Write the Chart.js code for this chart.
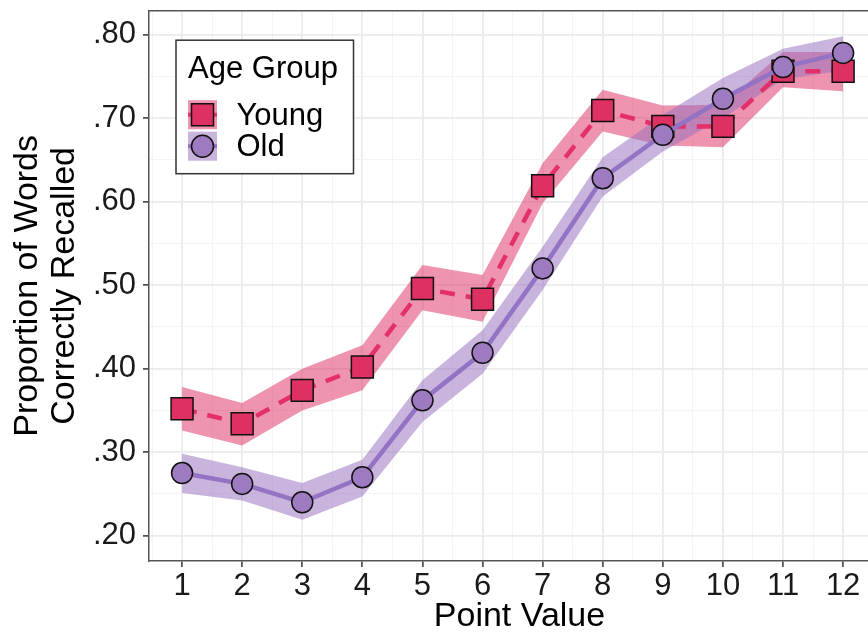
<!DOCTYPE html>
<html><head><meta charset="utf-8">
<script src="https://cdn.jsdelivr.net/npm/chart.js@4"></script>
<style>
html,body{margin:0;padding:0;overflow:hidden;background:#fff;width:868px;height:635px}
#wrap{position:absolute;left:0;top:0;width:890px;height:635px}
</style>
</head><body><div id="wrap"><canvas id="c" width="890" height="635" style="width:890px;height:635px"></canvas></div>
<script>
// ---- data ----
const pointValues = [1,2,3,4,5,6,7,8,9,10,11,12];
const seriesNames = ['Young','Old'];
const legendTitle = 'Age Group';
const youngMean  = [0.352,0.334,0.374,0.402,0.496,0.483,0.619,0.709,0.690,0.690,0.756,0.756];
const youngLower = [0.326,0.308,0.350,0.374,0.470,0.456,0.598,0.684,0.667,0.665,0.737,0.732];
const youngUpper = [0.378,0.359,0.400,0.428,0.524,0.512,0.646,0.734,0.715,0.716,0.779,0.779];
const oldMean    = [0.275,0.262,0.240,0.270,0.362,0.419,0.520,0.628,0.680,0.723,0.761,0.778];
const oldLower   = [0.251,0.242,0.219,0.247,0.336,0.394,0.494,0.606,0.660,0.700,0.746,0.757];
const oldUpper   = [0.298,0.282,0.263,0.291,0.386,0.446,0.546,0.653,0.704,0.748,0.783,0.798];
const xTickLabels = ['1','2','3','4','5','6','7','8','9','10','11','12'];
const xGridValues = [0.5,1,1.5,2,2.5,3,3.5,4,4.5,5,5.5,6,6.5,7,7.5,8,8.5,9,9.5,10,10.5,11,11.5,12,12.5];
const yTickLabels = ['.20','.30','.40','.50','.60','.70','.80'];
const yGridValues = [0.20,0.25,0.30,0.35,0.40,0.45,0.50,0.55,0.60,0.65,0.70,0.75,0.80];
const xAxisTitle = 'Point Value';
const yAxisTitle = ['Proportion of Words','Correctly Recalled'];

// ---- styles ----
const PINK = '#DE3163', PINK_LINE = '#E3306A', PINK_BAND = 'rgba(222,49,99,0.52)';
const PURPLE = '#9E7BC0', PURPLE_LINE = '#9472C4', PURPLE_BAND = 'rgba(150,112,190,0.52)';
const FONT = "'Liberation Sans', Arial, sans-serif";
const AXIS_COL = '#555';

const pts = arr => pointValues.map((x,i)=>({x, y: arr[i]}));
const isMajorX = v => Math.abs(v - Math.round(v)) < 1e-6;
const isMajorY = v => Math.round(v*100) % 10 === 0;
const noPad = s => { s.paddingTop = 0; s.paddingBottom = 0; s.paddingLeft = 0; s.paddingRight = 0; };

const frame = {
  id:'frame',
  afterDraw(chart){
    const {ctx, chartArea:a} = chart;
    ctx.save();
    ctx.strokeStyle = AXIS_COL; ctx.lineWidth = 1.5;
    ctx.beginPath(); ctx.moveTo(a.left, a.top); ctx.lineTo(a.right, a.top); ctx.stroke();
    ctx.restore();
  }
};

const legendBox = {
  id:'legendBox',
  afterDraw(chart){
    const {ctx, chartArea:a} = chart;
    const bx = a.left + 27, by = a.top + 29.5, bw = 177.5, bh = 133.5;
    ctx.save();
    ctx.fillStyle = '#fff'; ctx.fillRect(bx, by, bw, bh);
    ctx.strokeStyle = '#333'; ctx.lineWidth = 1.5; ctx.strokeRect(bx, by, bw, bh);
    ctx.fillStyle = '#000'; ctx.font = '31px ' + FONT; ctx.textBaseline = 'alphabetic'; ctx.textAlign='left';
    ctx.fillText(legendTitle, bx + 12, by + 38);
    const keys = [
      {band:PINK_BAND, line:PINK_LINE, fill:PINK, shape:'rect'},
      {band:PURPLE_BAND, line:PURPLE_LINE, fill:PURPLE, shape:'circle'}
    ];
    keys.forEach((k,i)=>{
      const kx = bx + 12, ky = by + 60 + i*31.5, ks = 29;
      ctx.fillStyle = k.band; ctx.fillRect(kx, ky, ks, ks);
      ctx.strokeStyle = k.line; ctx.lineWidth = 4;
      ctx.beginPath(); ctx.moveTo(kx, ky+ks/2); ctx.lineTo(kx+ks, ky+ks/2); ctx.stroke();
      ctx.fillStyle = k.fill; ctx.strokeStyle = '#111'; ctx.lineWidth = 1.5;
      const cx = kx + ks/2, cy = ky + ks/2;
      ctx.beginPath();
      if (k.shape==='rect') ctx.rect(cx-11, cy-11, 22, 22); else ctx.arc(cx, cy, 11, 0, Math.PI*2);
      ctx.fill(); ctx.stroke();
      ctx.fillStyle = '#000';
      ctx.fillText(seriesNames[i], kx + 48.5, ky + 24.5);
    });
    ctx.restore();
  }
};

const bandDs = (data, color, fill) => ({data, borderWidth:0, pointRadius:0, backgroundColor:color, fill, tension:0});

new Chart(document.getElementById('c'), {
  type:'line',
  data:{ datasets:[
    {label:seriesNames[1], data:pts(oldMean), borderColor:PURPLE_LINE, borderWidth:4.5, fill:false,
     pointStyle:'circle', pointRadius:10.5, pointBackgroundColor:PURPLE, pointBorderColor:'#111', pointBorderWidth:1.5, tension:0},
    {label:seriesNames[0], data:pts(youngMean), borderColor:PINK_LINE, borderWidth:4.5, borderDash:[15,11], fill:false,
     pointStyle:'rect', pointRadius:15.5, pointBackgroundColor:PINK, pointBorderColor:'#111', pointBorderWidth:1.5, tension:0},
    bandDs(pts(oldUpper), PURPLE_BAND, '+1'),
    bandDs(pts(oldLower), PURPLE_BAND, false),
    bandDs(pts(youngUpper), PINK_BAND, '+1'),
    bandDs(pts(youngLower), PINK_BAND, false)
  ]},
  options:{
    responsive:false, animation:false, devicePixelRatio:1,
    layout:{autoPadding:false, padding:{top:10.7,left:0,right:0,bottom:0}},
    plugins:{legend:{display:false}, tooltip:{enabled:false}},
    elements:{line:{borderJoinStyle:'round'}},
    scales:{
      x:{type:'linear', min:0.45, max:12.78,
        afterFit(s){ s.height = 74; noPad(s); },
        afterBuildTicks(s){ s.ticks = xGridValues.map(v=>({value:v})); },
        ticks:{autoSkip:false, maxRotation:0, padding:1, color:'#1a1a1a', font:{family:FONT, size:31},
          callback:v => isMajorX(v) ? xTickLabels[Math.round(v)-1] : ''},
        grid:{color:c => isMajorX(c.tick.value) ? '#ebebeb' : '#f3f3f3',
              lineWidth:c => isMajorX(c.tick.value) ? 1.8 : 0.9,
              tickColor:c => isMajorX(c.tick.value) ? '#333' : 'rgba(0,0,0,0)',
              tickLength:6, tickWidth:1.5},
        border:{display:true, color:AXIS_COL, width:1.5},
        title:{display:true, text:xAxisTitle, color:'#000', font:{family:FONT, size:34, lineHeight:1.09}, padding:{top:0,bottom:0}}
      },
      y:{type:'linear', min:0.1697, max:0.8285,
        afterFit(s){ s.width = 149; noPad(s); },
        afterBuildTicks(s){ s.ticks = yGridValues.map(v=>({value:v})); },
        ticks:{autoSkip:false, padding:7, color:'#1a1a1a', font:{family:FONT, size:31},
          callback:v => isMajorY(v) ? yTickLabels[Math.round(v*10)-2] : ''},
        grid:{color:c => isMajorY(c.tick.value) ? '#ebebeb' : '#f3f3f3',
              lineWidth:c => isMajorY(c.tick.value) ? 1.8 : 0.9,
              tickColor:c => isMajorY(c.tick.value) ? '#333' : 'rgba(0,0,0,0)',
              tickLength:6, tickWidth:1.5},
        border:{display:true, color:AXIS_COL, width:1.5},
        title:{display:true, text:yAxisTitle, color:'#000', font:{family:FONT, size:34, lineHeight:1.09}, padding:{top:9.5,bottom:0}}
      }
    }
  },
  plugins:[frame, legendBox]
});
</script></body></html>
